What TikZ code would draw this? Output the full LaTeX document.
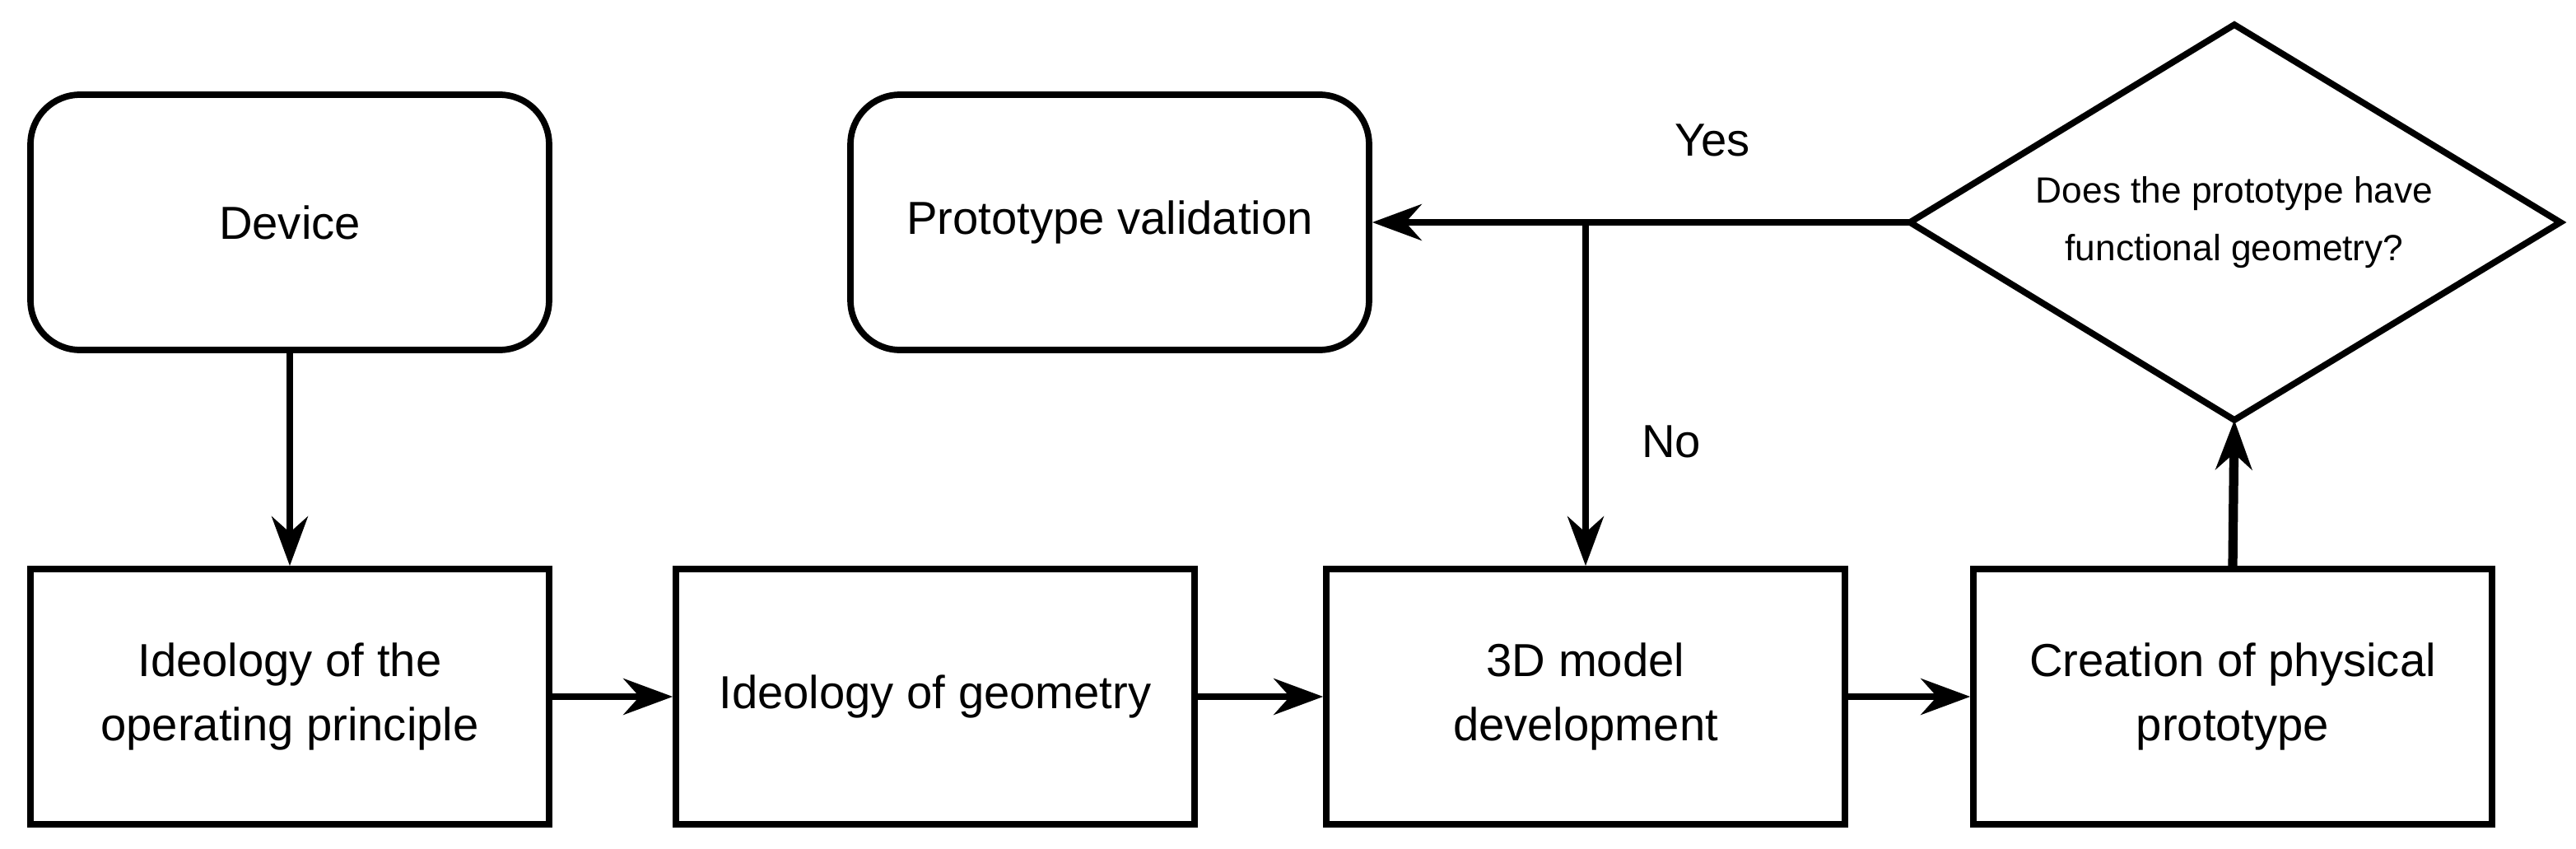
\documentclass[tikz,border=0pt]{standalone}
\usepackage{fontspec}
\setmainfont{Liberation Sans}
\usetikzlibrary{shapes.geometric,arrows.meta}
\begin{document}
\begin{tikzpicture}[x=0.02cm,y=-0.02cm,
  box/.style={draw,line width=2.2pt,minimum width=6.3cm,minimum height=3.1cm,align=center,font=\fontsize{16}{22}\selectfont,inner sep=2pt},
  rbox/.style={box,rounded corners=0.6cm},
  arr/.style={line width=2.2pt,-{Stealth[length=0.6cm,width=0.44cm]}}]
\useasboundingbox (0,0) rectangle (1564.5,515.5);
\node[rbox] (dev) at (176,135) {Device};
\node[rbox] (pv) at (674,135) {Prototype validation};
\coordinate (dw) at (1160,135);
\coordinate (dn) at (1357,15);
\coordinate (de) at (1555,135);
\coordinate (ds) at (1357,255);
\draw[line width=2.2pt] (dw) -- (dn) -- (de) -- (ds) -- cycle;
\node[align=center,font=\fontsize{12.6}{20}\selectfont] (dia) at (1357,135) {Does the prototype have\\functional geometry?};
\node[box] (b1) at (176,423) {Ideology of the\\operating principle};
\node[box] (b2) at (568,423) {Ideology of geometry};
\node[box] (b3) at (963,423) {3D model\\development};
\node[box] (b4) at (1356,423) {Creation of physical\\prototype};
\coordinate (j) at (963,135);
\draw[arr] (dev) -- (b1);
\draw[arr] (b1) -- (b2);
\draw[arr] (b2) -- (b3);
\draw[arr] (b3) -- (b4);
\draw[arr] (dw) -- (pv.east);
\draw[arr] (j) -- (b3.north);
\draw[arr,line width=3.2pt] (b4.north) -- (ds);
\node[font=\fontsize{16}{22}\selectfont] (yes) at (1040,85) {Yes};
\node[font=\fontsize{16}{22}\selectfont] (no) at (1015,268) {No};
\end{tikzpicture}
\end{document}
